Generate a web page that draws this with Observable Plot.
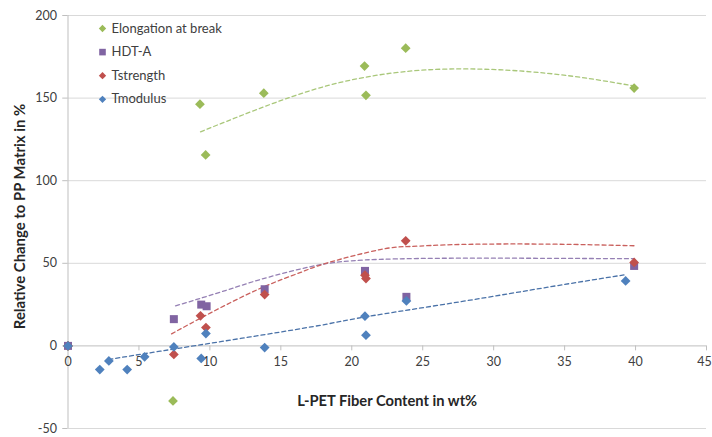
<!DOCTYPE html>
<html><head><meta charset="utf-8">
<script src="https://cdn.jsdelivr.net/npm/d3@7"></script>
<script src="https://cdn.jsdelivr.net/npm/@observablehq/plot@0.6"></script>
<style>
body{margin:0;background:#fff}
#chart{width:712px;height:437px}
</style>
</head><body><div id="chart"></div>
<script>
// ---- data ----
const seriesNames = ["Elongation at break", "HDT-A", "Tstrength", "Tmodulus"];
const seriesColors = ["#9BBB59", "#8064A2", "#C0504D", "#4F81BD"];
const trendColors = ["#A9C77A", "#9580B4", "#C9605D", "#4A72A8"];
const seriesSymbols = ["diamond2", "square2", "diamond2", "diamond2"];

const elongX = [0, 7.4, 9.3, 9.7, 13.8, 20.9, 21.0, 23.8, 39.9];
const elongY = [0, -33.3, 146.3, 115.6, 153.0, 169.4, 151.7, 180.2, 156.1];
const hdtX = [0, 7.46, 9.39, 9.77, 13.86, 20.93, 23.85, 39.9];
const hdtY = [0, 16.2, 25.0, 24.0, 34.3, 45.4, 29.7, 48.4];
const tstrX = [0, 7.46, 9.34, 9.72, 13.86, 20.93, 21.0, 23.8, 39.9];
const tstrY = [0, -5.2, 18.2, 11.1, 31.1, 42.8, 40.8, 63.6, 50.5];
const tmodX = [0, 2.24, 2.88, 4.17, 5.4, 7.46, 9.39, 9.72, 13.86, 20.93, 21.0, 23.85, 39.3];
const tmodY = [0, -14.3, -9.1, -14.3, -6.6, -0.6, -7.6, 7.5, -1.0, 18.0, 6.5, 27.2, 39.3];

// dashed trend lines
const elongTrendX = [9.34, 15.69, 20.86, 26.74, 33.8, 39.86];
const elongTrendY = [129.6, 150.6, 162.5, 167.6, 165.0, 157.4];
const hdtTrendX = [7.58, 11.2, 13.6, 16.4, 18.7, 22.0, 27.7, 34.0, 39.9];
const hdtTrendY = [24.2, 33.8, 40.3, 46.6, 50.4, 52.4, 53.1, 53.0, 52.8];
const tstrTrendX = [7.3, 10.05, 13.6, 16.4, 18.3, 22.0, 24.15, 27.7, 34.0, 40.0];
const tstrTrendY = [7.3, 20.0, 35.0, 44.5, 50.3, 58.3, 60.2, 61.4, 61.6, 60.6];
const tmodTrendX = [2.88, 6.5, 12.16, 17.8, 20.98, 27.7, 34.0, 39.2];
const tmodTrendY = [-8.2, -3.2, 4.5, 12.5, 17.6, 26.8, 35.8, 43.0];

const xTicks = [0, 5, 10, 15, 20, 25, 30, 35, 40];
const xLastTick = [45];
const yTicks = [-50, 0, 50, 100, 150, 200];
const gridY = [-50, 50, 100, 150, 200];
const xTitle = "L-PET Fiber Content in wt%";
const yTitle = "Relative Change to PP Matrix in %";

// ---- build tables ----
const pointsX = [elongX, hdtX, tstrX, tmodX];
const pointsY = [elongY, hdtY, tstrY, tmodY];
const trendsX = [elongTrendX, hdtTrendX, tstrTrendX, tmodTrendX];
const trendsY = [elongTrendY, hdtTrendY, tstrTrendY, tmodTrendY];
const pts = pointsX.map((xs, s) => xs.map((x, i) => ({x, y: pointsY[s][i]})));
const trends = trendsX.map((xs, s) => xs.map((x, i) => ({x, y: trendsY[s][i]})));

const font = "Lato, 'Open Sans', sans-serif";
const marks = [
  Plot.ruleY(gridY, {y: d => d, stroke: "#D9D9D9", strokeWidth: 1}),
  Plot.ruleY([0], {y: d => d, stroke: "#BFBFBF", strokeWidth: 1}),
  Plot.ruleX([0], {x: d => d, stroke: "#BFBFBF", strokeWidth: 1}),
  // y tick marks and labels
  Plot.ruleY(yTicks, {y: d => d, x1: 0, x2: -0.37, stroke: "#BFBFBF"}),
  Plot.text(yTicks, {x: 0, y: d => d, text: d => String(d), dx: -11, textAnchor: "end", fill: "#404040", fontSize: 12.5}),
  // x tick marks (on zero line) and labels
  Plot.ruleX(xTicks.concat(xLastTick), {x: d => d, y1: 0, y2: -3, stroke: "#BFBFBF"}),
  Plot.text(xTicks, {x: d => d, y: 0, text: d => String(d), dy: 16, fill: "#404040", fontSize: 12.5}),
  Plot.text(xLastTick, {x: d => d, y: 0, text: d => String(d), dy: 16, dx: -2, fill: "#404040", fontSize: 12.5}),
];
// trend lines
trends.forEach((t, s) => {
  marks.push(Plot.line(t, {x: "x", y: "y", stroke: trendColors[s], strokeWidth: 1.3, strokeDasharray: "4,3", curve: "natural"}));
});
// points
pts.forEach((p, s) => {
  marks.push(Plot.dot(p, {x: "x", y: "y", symbol: seriesSymbols[s], fill: seriesColors[s], r: s === 1 ? 5.1 : 4.4}));
});
// legend
seriesNames.forEach((name, i) => {
  marks.push(Plot.dot([name], {frameAnchor: "top-left", dx: 34.5, dy: 13 + 23.6 * i, symbol: seriesSymbols[i], fill: seriesColors[i], r: i === 1 ? 4.2 : 3.3}));
  marks.push(Plot.text([name], {frameAnchor: "top-left", dx: 43.5, dy: 13 + 23.6 * i, text: d => d, textAnchor: "start", lineAnchor: "middle", fill: "#404040", fontSize: 13}));
});
// axis titles
marks.push(Plot.text([xTitle], {frameAnchor: "bottom", dy: -27, text: d => d, textAnchor: "middle", lineAnchor: "middle", fontWeight: "bold", fontSize: 14.7, fill: "#262626"}));
marks.push(Plot.text([yTitle], {frameAnchor: "left", dx: -47.5, dy: -5.5, rotate: -90, text: d => d, textAnchor: "middle", lineAnchor: "middle", fontWeight: "bold", fontSize: 14.9, fill: "#262626"}));

const chart = Plot.plot({
  width: 712, height: 437,
  marginLeft: 67.5, marginRight: 6, marginTop: 15, marginBottom: 9,
  style: {fontFamily: font, background: "#fff", overflow: "visible"},
  x: {domain: [0, 45], axis: null},
  y: {domain: [-50, 200], axis: null},
  marks
});
document.getElementById("chart").appendChild(chart);
</script>
</body></html>
